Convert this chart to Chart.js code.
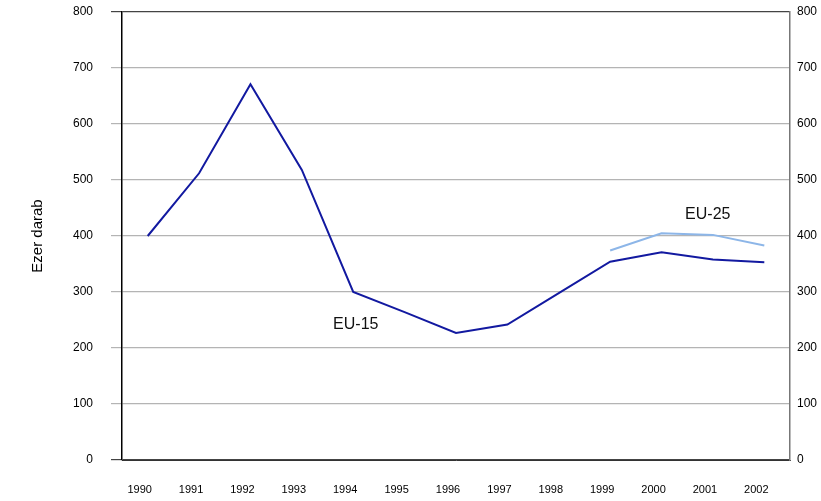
<!DOCTYPE html>
<html>
<head>
<meta charset="utf-8">
<script src="https://cdn.jsdelivr.net/npm/chart.js@4.4.1/dist/chart.umd.min.js"></script>
<style>
html,body{margin:0;padding:0;background:#fff;}
#wrap{width:821px;height:501px;position:relative;}
</style>
</head>
<body>
<div id="wrap"><canvas id="c"></canvas></div>
<script>
// data
const years=["1990","1991","1992","1993","1994","1995","1996","1997","1998","1999","2000","2001","2002"];
const eu15=[400,512,671,518,300,264,227,242,298,354,371,358,353];
const eu25=[null,null,null,null,null,null,null,null,null,374,405,402,383];
const yTicks=[0,100,200,300,400,500,600,700,800];

// series labels placed on the chart (category index, value)
const seriesLabels=[
  {text:"EU-15",x:4.05,y:241},
  {text:"EU-25",x:10.9,y:439}
];

const labelPlugin={
  id:"seriesLabels",
  afterDatasetsDraw(chart){
    const ctx=chart.ctx,xs=chart.scales.x,ys=chart.scales.y;
    ctx.save();
    ctx.font="16px 'Liberation Sans', Arial, sans-serif";
    ctx.fillStyle="#111";
    ctx.textAlign="center";ctx.textBaseline="middle";
    seriesLabels.forEach(l=>ctx.fillText(l.text,xs.getPixelForValue(l.x),ys.getPixelForValue(l.y)));
    ctx.restore();
  }
};

const tickFont={family:"'Liberation Sans', Arial, sans-serif",size:12};

const chart=new Chart(document.getElementById("c"),{
  type:"line",
  data:{
    labels:years,
    datasets:[
      {label:"EU-15",data:eu15,borderColor:"#1219a0",borderWidth:2,pointRadius:0,tension:0,yAxisID:"y"},
      {label:"EU-25",data:eu25,borderColor:"#8db6e8",borderWidth:2,pointRadius:0,tension:0,yAxisID:"y",spanGaps:false}
    ]
  },
  plugins:[labelPlugin],
  options:{
    responsive:true,maintainAspectRatio:false,animation:false,
    layout:{padding:0},
    plugins:{legend:{display:false},tooltip:{enabled:false}},
    scales:{
      x:{
        type:"category",offset:true,
        grid:{display:false},
        border:{display:true,color:"#333",width:1},
        ticks:{font:{family:tickFont.family,size:11},color:"#000",labelOffset:-8,padding:15,maxRotation:0,autoSkip:false},
        afterFit(s){s.height=41;}
      },
      y:{
        position:"left",min:0,max:800,
        afterBuildTicks(s){s.ticks=yTicks.map(v=>({value:v}));},
        grid:{
          color:c=>(c.tick&&(c.tick.value===0||c.tick.value===800))?"#444":"#b4b4b4",
          lineWidth:1.2,tickLength:11,drawTicks:true
        },
        border:{display:true,color:"#000",width:1.5},
        ticks:{font:tickFont,color:"#000",padding:18},
        title:{display:true,text:"Ezer darab",color:"#000",font:{family:tickFont.family,size:15},padding:{top:29,bottom:0}},
        afterFit(s){s.width=122;s.paddingTop=12;s.paddingBottom=0;}
      },
      y2:{
        position:"right",min:0,max:800,
        afterBuildTicks(s){s.ticks=yTicks.map(v=>({value:v}));},
        grid:{drawOnChartArea:false,drawTicks:false},
        border:{display:true,color:"#777",width:1.5},
        ticks:{font:tickFont,color:"#000",padding:7},
        afterFit(s){s.width=31;s.paddingTop=12;s.paddingBottom=0;}
      }
    }
  }
});
</script>
</body>
</html>
